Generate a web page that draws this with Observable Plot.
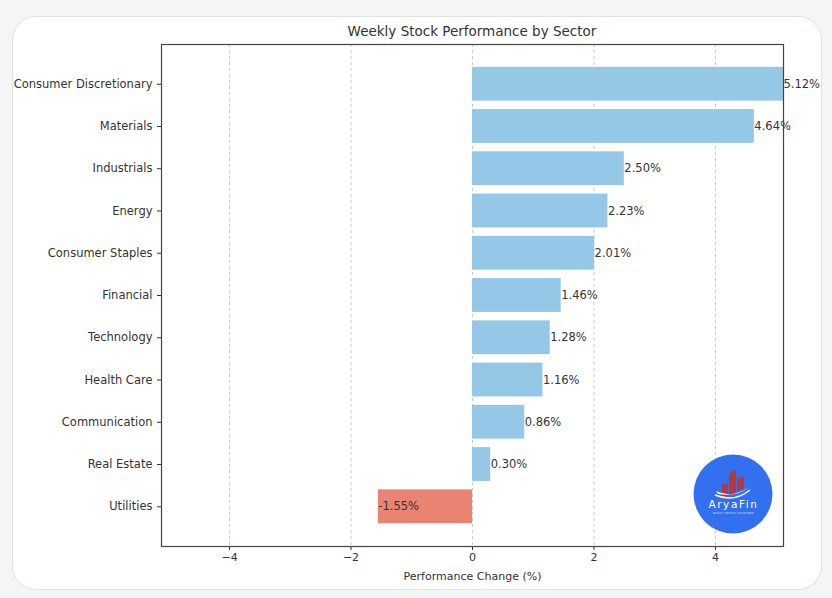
<!DOCTYPE html>
<html><head><meta charset="utf-8">
<script src="https://cdn.jsdelivr.net/npm/d3@7"></script>
<script src="https://cdn.jsdelivr.net/npm/@observablehq/plot@0.6"></script>
<style>
html,body{margin:0;padding:0;background:#f4f5f5;width:832px;height:598px;overflow:hidden;font-family:"DejaVu Sans",sans-serif;}
#card{position:absolute;left:12px;top:16px;width:810px;height:574px;background:#fff;border:1px solid #dfe3e6;border-radius:24px;box-sizing:border-box;}
#title{position:absolute;left:161px;width:622px;top:23px;text-align:center;font-size:13.5px;color:#333;}
#chart{position:absolute;left:0;top:0;}
#logo{position:absolute;left:692px;top:453px;}
</style></head>
<body>
<div id="card"></div>
<div id="chart"></div>
<div id="title">Weekly Stock Performance by Sector</div>
<svg id="logo" width="82" height="82" viewBox="0 0 82 82">
  <circle cx="41" cy="41" r="39.5" fill="#3370f0"/>
  <polygon points="30,32 36,30 36,44 30,44" fill="#b23a3a"/>
  <polygon points="37,20 44,17 44,41 37,42" fill="#b23a3a"/>
  <polygon points="45,25 52,23 52,36 45,38" fill="#b23a3a"/>
  <path d="M24 38 Q40 46 57 34 Q46 44 26 41 Z" fill="#fff"/>
  <path d="M23 42 Q42 50 58 37" stroke="#fff" stroke-width="1.4" fill="none"/>
  <text x="41.5" y="54.5" text-anchor="middle" font-size="10.5" fill="#fff" font-family="DejaVu Sans" letter-spacing="1.6">AryaFin</text>
  <text x="41.5" y="61" text-anchor="middle" font-size="2.6" fill="#dfe8ff" font-family="DejaVu Sans" letter-spacing="0.3">MULTI FINTECH PLATFORM</text>
</svg>
<script>
const sectors = ["Consumer Discretionary","Materials","Industrials","Energy","Consumer Staples","Financial","Technology","Health Care","Communication","Real Estate","Utilities"];
const changes = [5.12,4.64,2.50,2.23,2.01,1.46,1.28,1.16,0.86,0.30,-1.55];
const xTicks = [-4,-2,0,2,4];

const data = sectors.map((s,i)=>({sector:s, value:changes[i]}));
const fmt = d => d < 0 ? "\u2212"+Math.abs(d) : String(d);

const chart = Plot.plot({
  width: 832, height: 598,
  marginLeft: 161, marginRight: 49, marginTop: 44, marginBottom: 52,
  style: {background:"transparent", fontFamily:"DejaVu Sans, sans-serif", fontSize:"11px", color:"#333"},
  x: {domain:[-5.12,5.12], ticks:xTicks, tickFormat: fmt, label:"Performance Change (%)", labelArrow:"none", labelAnchor:"center", labelOffset:33},
  y: {domain:sectors, padding:0.2, paddingOuter:0.54, round:false, label:null},
  marks: [
    Plot.gridX(xTicks, {stroke:"#b0b0b0", strokeOpacity:0.7, strokeDasharray:"3,3"}),
    Plot.barX(data, {x:"value", y:"sector", fill: d => d.value >= 0 ? "#95c8e6" : "#e98472"}),
    Plot.text(data, {x:"value", y:"sector", text: d => d.value.toFixed(2)+"%", textAnchor:"start", fontSize:11.5, fill:"#333"}),
    Plot.axisX({ticks:xTicks, tickFormat: fmt, tickSize:4, tickPadding:3, fontSize:11, label:"Performance Change (%)", labelArrow:"none", labelAnchor:"center", labelOffset:33}),
    Plot.axisY({tickSize:4, fontSize:11.5, label:null}),
    Plot.frame({stroke:"#444", strokeWidth:1.2})
  ]
});
document.getElementById("chart").appendChild(chart);
</script>
</body></html>
